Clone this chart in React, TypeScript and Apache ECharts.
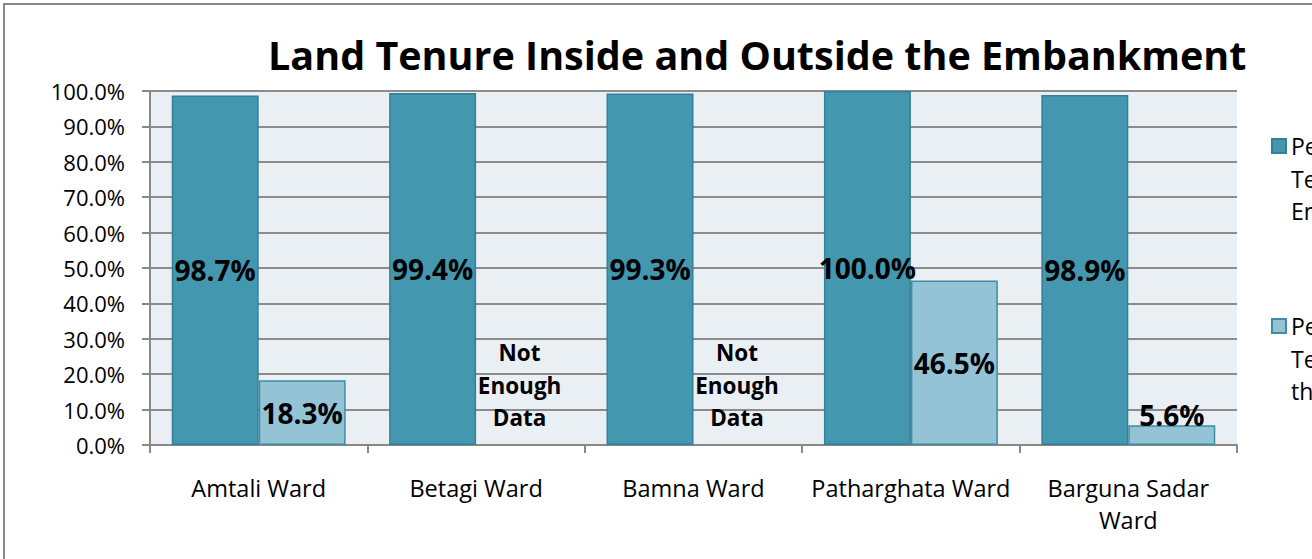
import React, { useEffect, useRef } from "react";
import * as echarts from "echarts";

const titleText = "Land Tenure Inside and Outside the Embankment";
const categories = [
  "Amtali Ward",
  "Betagi Ward",
  "Bamna Ward",
  "Patharghata Ward",
  "Barguna Sadar\nWard",
];
const seriesNames = [
  "Percentage of Land\nTenure Inside the\nEmbankment",
  "Percentage of Land\nTenure Outside\nthe Embankment",
];
const insideValues = [98.7, 99.4, 99.3, 100.0, 98.9];
const outsideValues: (number | null)[] = [18.3, null, null, 46.5, 5.6];
const missingText = "Not\nEnough\nData";
const yMin = 0;
const yMax = 100;
const yInterval = 10;

const FONT = "'Open Sans', 'Noto Sans', sans-serif";
const DARK = "#4398B0";
const DARK_BORDER = "#357F97";
const LIGHT = "#93C3D5";
const LIGHT_BORDER = "#3C8DA7";

const fmt = (v: number) => v.toFixed(1) + "%";

export default function App() {
  const ref = useRef<HTMLDivElement>(null);
  useEffect(() => {
    if (!ref.current) return;
    const chart = echarts.init(ref.current, undefined, { renderer: "svg" });

    const labelBase = {
      show: true,
      position: "inside",
      color: "#000",
      fontFamily: FONT,
      fontWeight: "bold",
      fontSize: 28,
      formatter: (p: any) => fmt(p.value),
    };

    const outsideData = outsideValues.map((v) => {
      if (v == null) {
        return {
          value: 0,
          itemStyle: { color: "transparent", borderWidth: 0 },
          label: {
            show: true,
            position: "top",
            distance: 11,
            fontSize: 22.5,
            lineHeight: 32.5,
            formatter: missingText,
          },
        };
      }
      if (v < 10) {
        return { value: v, label: { position: "top", distance: -4 } };
      }
      return v;
    });

    chart.setOption({
      animation: false,
      backgroundColor: "#fff",
      textStyle: { fontFamily: FONT },
      title: {
        text: titleText,
        left: 263,
        top: 30,
        textStyle: { fontFamily: FONT, fontWeight: "bold", fontSize: 39.5, color: "#000" },
      },
      graphic: [
        {
          type: "rect",
          silent: true,
          z: 100,
          shape: { x: 4, y: 4, width: 1400, height: 700 },
          style: { fill: "none", stroke: "#888888", lineWidth: 2 },
        },
      ],
      legend: {
        orient: "vertical",
        left: 1266,
        top: 124,
        itemWidth: 14,
        itemHeight: 97,
        itemGap: 81,
        icon: "path://M0,0L0,0M0,9H14V23H0ZM0,97L0,97",
        textStyle: { fontFamily: FONT, fontSize: 23, lineHeight: 32.5, color: "#000" },
        data: seriesNames,
      },
      grid: {
        left: 150,
        right: 75,
        top: 91,
        bottom: 114,
        show: true,
        backgroundColor: "#E9EFF3",
        borderWidth: 0,
      },
      xAxis: {
        type: "category",
        data: categories,
        axisLine: { lineStyle: { color: "#888888", width: 2 } },
        axisTick: { show: true, length: 8, alignWithLabel: false, lineStyle: { color: "#888888", width: 2 } },
        axisLabel: { color: "#000", fontSize: 23.5, fontFamily: FONT, margin: 27, lineHeight: 32, interval: 0 },
      },
      yAxis: {
        type: "value",
        min: yMin,
        max: yMax,
        interval: yInterval,
        axisLine: { show: true, lineStyle: { color: "#888888", width: 2 } },
        axisTick: { show: true, length: 8, lineStyle: { color: "#888888", width: 2 } },
        splitLine: { show: true, lineStyle: { color: "#8C8C8C", width: 2 } },
        axisLabel: {
          color: "#000",
          fontSize: 22,
          fontFamily: FONT,
          margin: 25,
          formatter: (v: number) => fmt(v),
        },
      },
      series: [
        {
          name: seriesNames[0],
          type: "bar",
          data: insideValues,
          barGap: "0%",
          barCategoryGap: "20%",
          itemStyle: { color: DARK, borderColor: DARK_BORDER, borderWidth: 1.5 },
          label: labelBase,
        },
        {
          name: seriesNames[1],
          type: "bar",
          data: outsideData,
          itemStyle: { color: LIGHT, borderColor: LIGHT_BORDER, borderWidth: 1.5 },
          label: labelBase,
        },
      ],
    });
    return () => chart.dispose();
  }, []);
  return (
    <div
      ref={ref}
      style={{ position: "absolute", left: 0, top: 0, width: 1312, height: 559 }}
    />
  );
}
